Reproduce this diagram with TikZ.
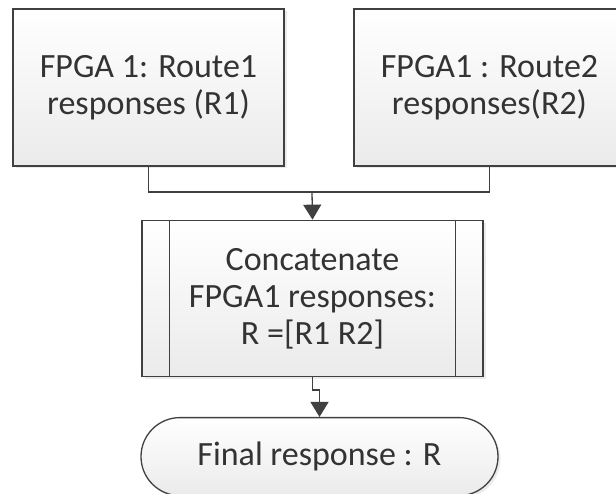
\documentclass[tikz,border=0pt]{standalone}
\usepackage{fontspec}
\setmainfont{Carlito}
\usetikzlibrary{arrows.meta,positioning,shapes.misc,shadows}
\usepackage{xcolor}
\definecolor{edgegray}{HTML}{404040}
\definecolor{textgray}{HTML}{333333}

\begin{document}
\begin{tikzpicture}[
  x=1pt,y=-1pt,
  font=\fontsize{34}{37}\selectfont,
  block/.style={
    draw=edgegray,
    line width=1.3pt,
    top color=white,
    bottom color=black!8,
    text=textgray,
    align=center,
    inner sep=0pt,
    drop shadow={shadow xshift=2.5pt,shadow yshift=-2.5pt,fill=black!15}
  },
  inputbox/.style={block,minimum width=271pt,minimum height=157pt},
  processbox/.style={block,minimum width=341pt,minimum height=156pt},
  terminal/.style={block,rounded rectangle,minimum width=357pt,minimum height=78pt},
  wire/.style={line width=1.3pt,draw=edgegray},
  flow/.style={wire,-{Triangle[width=18pt,length=15pt]}}
]
  \clip (0,0) rectangle (616,494);
  \fill[white] (0,0) rectangle (616,494);

  % Two sources of responses.
  \node[inputbox] (route1) at (148.5,87.5) {FPGA 1: Route1\\responses (R1)};
  \node[inputbox] (route2) at (489.5,87.5) {FPGA1 : Route2\\responses(R2)};

  % Concatenation step, drawn as a predefined process.
  \node[processbox,below=53pt of route1.south,anchor=north,xshift=164pt] (concat) {
    Concatenate\\
    FPGA1 responses:\\
    R =[R1 R2]
  };
  \draw[wire] ([xshift=28pt]concat.north west) -- ([xshift=28pt]concat.south west);
  \draw[wire] ([xshift=-28pt]concat.north east) -- ([xshift=-28pt]concat.south east);

  \node[terminal,below=40pt of concat.south,anchor=north,xshift=7pt] (final) {Final response : R};

  % Connectors.
  \coordinate (join) at (312,192);
  \draw[wire] (route1.south) |- (join);
  \draw[wire] (route2.south) |- (join);
  \draw[flow] (join) -- (concat.north);
  \draw[flow] (concat.south) -- ++(0,13) -| (final.north);
\end{tikzpicture}
\end{document}
